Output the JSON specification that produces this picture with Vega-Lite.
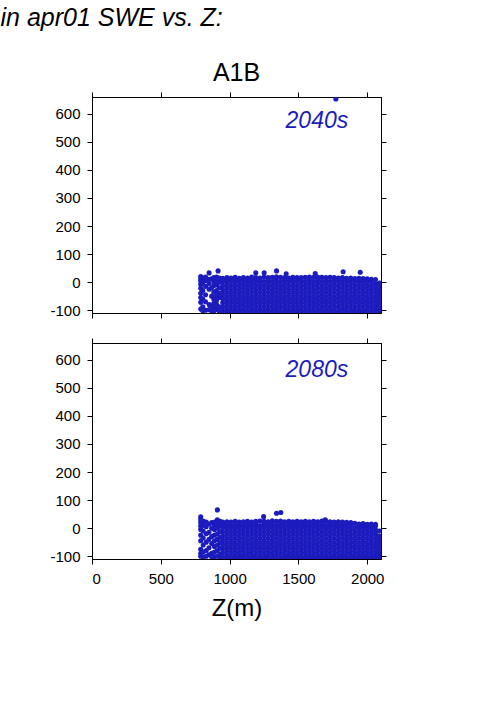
{
"$schema": "https://vega.github.io/schema/vega-lite/v6.json",
"background": "white",
"padding": {"left": 0, "top": 6, "right": 5, "bottom": 5},
"spacing": 18,
"title": {"text": "in apr01 SWE vs. Z:", "anchor": "start", "frame": "bounds", "dx": -49, "fontSize": 25, "fontStyle": "italic", "fontWeight": "normal", "font": "Liberation Sans", "color": "black", "offset": 29},
"config": {
 "view": {"stroke": "black", "strokeWidth": 1},
 "font": "Liberation Sans",
 "axis": {"domainColor": "black", "domainWidth": 1, "tickColor": "black", "tickWidth": 1, "tickSize": 5, "labelFont": "Liberation Sans", "labelFontSize": 15, "labelColor": "black", "labelPadding": 7, "grid": false, "titleFont": "Liberation Sans", "titleFontSize": 24, "titleFontWeight": "normal", "titleColor": "black", "labelExpr": "'' + datum.value"},
 "title": {"font": "Liberation Sans", "fontWeight": "normal", "color": "black"}
},
"datasets": {
"a": [
{"z":790,"s":20},{"z":790,"s":12},{"z":790,"s":4},{"z":790,"s":-8},{"z":790,"s":-22},{"z":790,"s":-40},{"z":790,"s":-55},{"z":790,"s":-72},{"z":790,"s":-96},
{"z":805,"s":15},{"z":805,"s":-2},{"z":805,"s":-30},{"z":805,"s":-60},{"z":805,"s":-88},{"z":805,"s":-102},
{"z":825,"s":18},{"z":825,"s":6},{"z":825,"s":-15},{"z":825,"s":-45},{"z":825,"s":-70},{"z":825,"s":-100},
{"z":851,"s":33},{"z":851,"s":10},{"z":851,"s":-5},{"z":851,"s":-25},{"z":851,"s":-80},{"z":851,"s":-98},
{"z":870,"s":12},{"z":870,"s":-20},{"z":870,"s":-50},{"z":870,"s":-85},{"z":870,"s":-103},
{"z":885,"s":16},{"z":885,"s":2},{"z":885,"s":-12},{"z":885,"s":-35},{"z":885,"s":-60},{"z":885,"s":-75},{"z":885,"s":-92},{"z":885,"s":-103},
{"z":905,"s":18},{"z":905,"s":5},{"z":905,"s":-10},{"z":905,"s":-30},{"z":905,"s":-48},{"z":905,"s":-65},{"z":905,"s":-80},{"z":905,"s":-97},
{"z":916,"s":40},
{"z":925,"s":15},{"z":925,"s":0},{"z":925,"s":-20},{"z":925,"s":-40},{"z":925,"s":-55},{"z":925,"s":-88},{"z":925,"s":-104},
{"z":1190,"s":33},{"z":1251,"s":33},{"z":1341,"s":40},{"z":1411,"s":30},{"z":1622,"s":31},{"z":1825,"s":37},{"z":1949,"s":35},{"z":1772,"s":653},
{"z":950,"s":-103},{"z":950,"s":-88},{"z":950,"s":-73},{"z":950,"s":-58},{"z":950,"s":-43},{"z":950,"s":-28},{"z":950,"s":-13},{"z":950,"s":2},{"z":950,"s":14},
{"z":980,"s":-105},{"z":980,"s":-96},{"z":980,"s":-81},{"z":980,"s":-66},{"z":980,"s":-51},{"z":980,"s":-36},{"z":980,"s":-21},{"z":980,"s":-6},{"z":980,"s":8},{"z":980,"s":16},
{"z":1010,"s":-103},{"z":1010,"s":-88},{"z":1010,"s":-73},{"z":1010,"s":-58},{"z":1010,"s":-43},{"z":1010,"s":-28},{"z":1010,"s":-13},{"z":1010,"s":2},{"z":1010,"s":15},
{"z":1040,"s":-105},{"z":1040,"s":-96},{"z":1040,"s":-81},{"z":1040,"s":-66},{"z":1040,"s":-51},{"z":1040,"s":-36},{"z":1040,"s":-21},{"z":1040,"s":-6},{"z":1040,"s":8},{"z":1040,"s":17},
{"z":1070,"s":-103},{"z":1070,"s":-88},{"z":1070,"s":-73},{"z":1070,"s":-58},{"z":1070,"s":-43},{"z":1070,"s":-28},{"z":1070,"s":-13},{"z":1070,"s":2},{"z":1070,"s":14},
{"z":1100,"s":-105},{"z":1100,"s":-96},{"z":1100,"s":-81},{"z":1100,"s":-66},{"z":1100,"s":-51},{"z":1100,"s":-36},{"z":1100,"s":-21},{"z":1100,"s":-6},{"z":1100,"s":8},{"z":1100,"s":16},
{"z":1130,"s":-103},{"z":1130,"s":-88},{"z":1130,"s":-73},{"z":1130,"s":-58},{"z":1130,"s":-43},{"z":1130,"s":-28},{"z":1130,"s":-13},{"z":1130,"s":2},{"z":1130,"s":15},
{"z":1160,"s":-105},{"z":1160,"s":-96},{"z":1160,"s":-81},{"z":1160,"s":-66},{"z":1160,"s":-51},{"z":1160,"s":-36},{"z":1160,"s":-21},{"z":1160,"s":-6},{"z":1160,"s":8},{"z":1160,"s":18},
{"z":1190,"s":-103},{"z":1190,"s":-88},{"z":1190,"s":-73},{"z":1190,"s":-58},{"z":1190,"s":-43},{"z":1190,"s":-28},{"z":1190,"s":-13},{"z":1190,"s":2},{"z":1190,"s":16},
{"z":1220,"s":-105},{"z":1220,"s":-96},{"z":1220,"s":-81},{"z":1220,"s":-66},{"z":1220,"s":-51},{"z":1220,"s":-36},{"z":1220,"s":-21},{"z":1220,"s":-6},{"z":1220,"s":8},{"z":1220,"s":15},
{"z":1250,"s":-103},{"z":1250,"s":-88},{"z":1250,"s":-73},{"z":1250,"s":-58},{"z":1250,"s":-43},{"z":1250,"s":-28},{"z":1250,"s":-13},{"z":1250,"s":2},{"z":1250,"s":18},
{"z":1280,"s":-105},{"z":1280,"s":-96},{"z":1280,"s":-81},{"z":1280,"s":-66},{"z":1280,"s":-51},{"z":1280,"s":-36},{"z":1280,"s":-21},{"z":1280,"s":-6},{"z":1280,"s":8},{"z":1280,"s":16},
{"z":1310,"s":-103},{"z":1310,"s":-88},{"z":1310,"s":-73},{"z":1310,"s":-58},{"z":1310,"s":-43},{"z":1310,"s":-28},{"z":1310,"s":-13},{"z":1310,"s":2},{"z":1310,"s":17},
{"z":1340,"s":-105},{"z":1340,"s":-96},{"z":1340,"s":-81},{"z":1340,"s":-66},{"z":1340,"s":-51},{"z":1340,"s":-36},{"z":1340,"s":-21},{"z":1340,"s":-6},{"z":1340,"s":8},{"z":1340,"s":19},
{"z":1370,"s":-103},{"z":1370,"s":-88},{"z":1370,"s":-73},{"z":1370,"s":-58},{"z":1370,"s":-43},{"z":1370,"s":-28},{"z":1370,"s":-13},{"z":1370,"s":2},{"z":1370,"s":17},
{"z":1400,"s":-105},{"z":1400,"s":-96},{"z":1400,"s":-81},{"z":1400,"s":-66},{"z":1400,"s":-51},{"z":1400,"s":-36},{"z":1400,"s":-21},{"z":1400,"s":-6},{"z":1400,"s":8},{"z":1400,"s":16},
{"z":1430,"s":-103},{"z":1430,"s":-88},{"z":1430,"s":-73},{"z":1430,"s":-58},{"z":1430,"s":-43},{"z":1430,"s":-28},{"z":1430,"s":-13},{"z":1430,"s":2},{"z":1430,"s":15},
{"z":1460,"s":-105},{"z":1460,"s":-96},{"z":1460,"s":-81},{"z":1460,"s":-66},{"z":1460,"s":-51},{"z":1460,"s":-36},{"z":1460,"s":-21},{"z":1460,"s":-6},{"z":1460,"s":8},{"z":1460,"s":17},
{"z":1490,"s":-103},{"z":1490,"s":-88},{"z":1490,"s":-73},{"z":1490,"s":-58},{"z":1490,"s":-43},{"z":1490,"s":-28},{"z":1490,"s":-13},{"z":1490,"s":2},{"z":1490,"s":16},
{"z":1520,"s":-105},{"z":1520,"s":-96},{"z":1520,"s":-81},{"z":1520,"s":-66},{"z":1520,"s":-51},{"z":1520,"s":-36},{"z":1520,"s":-21},{"z":1520,"s":-6},{"z":1520,"s":8},{"z":1520,"s":16},
{"z":1550,"s":-103},{"z":1550,"s":-88},{"z":1550,"s":-73},{"z":1550,"s":-58},{"z":1550,"s":-43},{"z":1550,"s":-28},{"z":1550,"s":-13},{"z":1550,"s":2},{"z":1550,"s":17},
{"z":1580,"s":-105},{"z":1580,"s":-96},{"z":1580,"s":-81},{"z":1580,"s":-66},{"z":1580,"s":-51},{"z":1580,"s":-36},{"z":1580,"s":-21},{"z":1580,"s":-6},{"z":1580,"s":8},{"z":1580,"s":18},
{"z":1610,"s":-103},{"z":1610,"s":-88},{"z":1610,"s":-73},{"z":1610,"s":-58},{"z":1610,"s":-43},{"z":1610,"s":-28},{"z":1610,"s":-13},{"z":1610,"s":2},{"z":1610,"s":17},
{"z":1640,"s":-105},{"z":1640,"s":-96},{"z":1640,"s":-81},{"z":1640,"s":-66},{"z":1640,"s":-51},{"z":1640,"s":-36},{"z":1640,"s":-21},{"z":1640,"s":-6},{"z":1640,"s":8},{"z":1640,"s":18},
{"z":1670,"s":-103},{"z":1670,"s":-88},{"z":1670,"s":-73},{"z":1670,"s":-58},{"z":1670,"s":-43},{"z":1670,"s":-28},{"z":1670,"s":-13},{"z":1670,"s":2},{"z":1670,"s":17},
{"z":1700,"s":-105},{"z":1700,"s":-96},{"z":1700,"s":-81},{"z":1700,"s":-66},{"z":1700,"s":-51},{"z":1700,"s":-36},{"z":1700,"s":-21},{"z":1700,"s":-6},{"z":1700,"s":8},{"z":1700,"s":16},
{"z":1730,"s":-103},{"z":1730,"s":-88},{"z":1730,"s":-73},{"z":1730,"s":-58},{"z":1730,"s":-43},{"z":1730,"s":-28},{"z":1730,"s":-13},{"z":1730,"s":2},{"z":1730,"s":17},
{"z":1760,"s":-105},{"z":1760,"s":-96},{"z":1760,"s":-81},{"z":1760,"s":-66},{"z":1760,"s":-51},{"z":1760,"s":-36},{"z":1760,"s":-21},{"z":1760,"s":-6},{"z":1760,"s":8},{"z":1760,"s":16},
{"z":1790,"s":-103},{"z":1790,"s":-88},{"z":1790,"s":-73},{"z":1790,"s":-58},{"z":1790,"s":-43},{"z":1790,"s":-28},{"z":1790,"s":-13},{"z":1790,"s":2},{"z":1790,"s":15},
{"z":1820,"s":-105},{"z":1820,"s":-96},{"z":1820,"s":-81},{"z":1820,"s":-66},{"z":1820,"s":-51},{"z":1820,"s":-36},{"z":1820,"s":-21},{"z":1820,"s":-6},{"z":1820,"s":8},{"z":1820,"s":16},
{"z":1850,"s":-103},{"z":1850,"s":-88},{"z":1850,"s":-73},{"z":1850,"s":-58},{"z":1850,"s":-43},{"z":1850,"s":-28},{"z":1850,"s":-13},{"z":1850,"s":2},{"z":1850,"s":14},
{"z":1880,"s":-105},{"z":1880,"s":-96},{"z":1880,"s":-81},{"z":1880,"s":-66},{"z":1880,"s":-51},{"z":1880,"s":-36},{"z":1880,"s":-21},{"z":1880,"s":-6},{"z":1880,"s":8},{"z":1880,"s":15},
{"z":1910,"s":-103},{"z":1910,"s":-88},{"z":1910,"s":-73},{"z":1910,"s":-58},{"z":1910,"s":-43},{"z":1910,"s":-28},{"z":1910,"s":-13},{"z":1910,"s":2},{"z":1910,"s":13},
{"z":1940,"s":-105},{"z":1940,"s":-96},{"z":1940,"s":-81},{"z":1940,"s":-66},{"z":1940,"s":-51},{"z":1940,"s":-36},{"z":1940,"s":-21},{"z":1940,"s":-6},{"z":1940,"s":8},{"z":1940,"s":14},
{"z":1970,"s":-103},{"z":1970,"s":-88},{"z":1970,"s":-73},{"z":1970,"s":-58},{"z":1970,"s":-43},{"z":1970,"s":-28},{"z":1970,"s":-13},{"z":1970,"s":2},{"z":1970,"s":13},
{"z":2000,"s":-105},{"z":2000,"s":-96},{"z":2000,"s":-81},{"z":2000,"s":-66},{"z":2000,"s":-51},{"z":2000,"s":-36},{"z":2000,"s":-21},{"z":2000,"s":-6},{"z":2000,"s":8},{"z":2000,"s":12},
{"z":2030,"s":-103},{"z":2030,"s":-88},{"z":2030,"s":-73},{"z":2030,"s":-58},{"z":2030,"s":-43},{"z":2030,"s":-28},{"z":2030,"s":-13},{"z":2030,"s":2},{"z":2030,"s":10},
{"z":2060,"s":-105},{"z":2060,"s":-96},{"z":2060,"s":-81},{"z":2060,"s":-66},{"z":2060,"s":-51},{"z":2060,"s":-36},{"z":2060,"s":-21},{"z":2060,"s":-6},{"z":2060,"s":9},
{"z":2088,"s":-103},{"z":2088,"s":-88},{"z":2088,"s":-73},{"z":2088,"s":-58},{"z":2088,"s":-43},{"z":2088,"s":-28},{"z":2088,"s":-13},{"z":2088,"s":-3}
],
"b": [
{"z":790,"s":40},{"z":790,"s":30},{"z":790,"s":20},{"z":790,"s":8},{"z":790,"s":-5},{"z":790,"s":-25},{"z":790,"s":-45},{"z":790,"s":-75},{"z":790,"s":-90},{"z":790,"s":-100},
{"z":808,"s":25},{"z":808,"s":10},{"z":808,"s":-10},{"z":808,"s":-35},{"z":808,"s":-60},{"z":808,"s":-85},{"z":808,"s":-103},
{"z":830,"s":22},{"z":830,"s":5},{"z":830,"s":-20},{"z":830,"s":-50},{"z":830,"s":-80},{"z":830,"s":-100},
{"z":850,"s":15},{"z":850,"s":-15},{"z":850,"s":-40},{"z":850,"s":-70},{"z":850,"s":-95},
{"z":870,"s":20},{"z":870,"s":0},{"z":870,"s":-30},{"z":870,"s":-55},{"z":870,"s":-90},{"z":870,"s":-103},
{"z":890,"s":22},{"z":890,"s":10},{"z":890,"s":-5},{"z":890,"s":-25},{"z":890,"s":-45},{"z":890,"s":-65},{"z":890,"s":-85},{"z":890,"s":-102},
{"z":911,"s":65},{"z":911,"s":30},{"z":911,"s":18},{"z":911,"s":0},{"z":911,"s":-20},{"z":911,"s":-40},{"z":911,"s":-60},{"z":911,"s":-80},{"z":911,"s":-100},
{"z":930,"s":24},{"z":930,"s":8},{"z":930,"s":-12},{"z":930,"s":-32},{"z":930,"s":-52},{"z":930,"s":-72},{"z":930,"s":-92},{"z":930,"s":-104},
{"z":1247,"s":41},{"z":1341,"s":53},{"z":1372,"s":56},{"z":1695,"s":30},
{"z":950,"s":-103},{"z":950,"s":-88},{"z":950,"s":-73},{"z":950,"s":-58},{"z":950,"s":-43},{"z":950,"s":-28},{"z":950,"s":-13},{"z":950,"s":2},{"z":950,"s":14},{"z":950,"s":22},
{"z":980,"s":-105},{"z":980,"s":-96},{"z":980,"s":-81},{"z":980,"s":-66},{"z":980,"s":-51},{"z":980,"s":-36},{"z":980,"s":-21},{"z":980,"s":-6},{"z":980,"s":8},{"z":980,"s":23},
{"z":1010,"s":-103},{"z":1010,"s":-88},{"z":1010,"s":-73},{"z":1010,"s":-58},{"z":1010,"s":-43},{"z":1010,"s":-28},{"z":1010,"s":-13},{"z":1010,"s":2},{"z":1010,"s":14},{"z":1010,"s":22},
{"z":1040,"s":-105},{"z":1040,"s":-96},{"z":1040,"s":-81},{"z":1040,"s":-66},{"z":1040,"s":-51},{"z":1040,"s":-36},{"z":1040,"s":-21},{"z":1040,"s":-6},{"z":1040,"s":8},{"z":1040,"s":24},
{"z":1070,"s":-103},{"z":1070,"s":-88},{"z":1070,"s":-73},{"z":1070,"s":-58},{"z":1070,"s":-43},{"z":1070,"s":-28},{"z":1070,"s":-13},{"z":1070,"s":2},{"z":1070,"s":14},{"z":1070,"s":22},
{"z":1100,"s":-105},{"z":1100,"s":-96},{"z":1100,"s":-81},{"z":1100,"s":-66},{"z":1100,"s":-51},{"z":1100,"s":-36},{"z":1100,"s":-21},{"z":1100,"s":-6},{"z":1100,"s":8},{"z":1100,"s":23},
{"z":1130,"s":-103},{"z":1130,"s":-88},{"z":1130,"s":-73},{"z":1130,"s":-58},{"z":1130,"s":-43},{"z":1130,"s":-28},{"z":1130,"s":-13},{"z":1130,"s":2},{"z":1130,"s":14},{"z":1130,"s":24},
{"z":1160,"s":-105},{"z":1160,"s":-96},{"z":1160,"s":-81},{"z":1160,"s":-66},{"z":1160,"s":-51},{"z":1160,"s":-36},{"z":1160,"s":-21},{"z":1160,"s":-6},{"z":1160,"s":8},{"z":1160,"s":22},
{"z":1190,"s":-103},{"z":1190,"s":-88},{"z":1190,"s":-73},{"z":1190,"s":-58},{"z":1190,"s":-43},{"z":1190,"s":-28},{"z":1190,"s":-13},{"z":1190,"s":2},{"z":1190,"s":14},{"z":1190,"s":24},
{"z":1220,"s":-105},{"z":1220,"s":-96},{"z":1220,"s":-81},{"z":1220,"s":-66},{"z":1220,"s":-51},{"z":1220,"s":-36},{"z":1220,"s":-21},{"z":1220,"s":-6},{"z":1220,"s":8},{"z":1220,"s":25},
{"z":1250,"s":-103},{"z":1250,"s":-88},{"z":1250,"s":-73},{"z":1250,"s":-58},{"z":1250,"s":-43},{"z":1250,"s":-28},{"z":1250,"s":-13},{"z":1250,"s":2},{"z":1250,"s":14},{"z":1250,"s":24},
{"z":1280,"s":-105},{"z":1280,"s":-96},{"z":1280,"s":-81},{"z":1280,"s":-66},{"z":1280,"s":-51},{"z":1280,"s":-36},{"z":1280,"s":-21},{"z":1280,"s":-6},{"z":1280,"s":8},{"z":1280,"s":23},
{"z":1310,"s":-103},{"z":1310,"s":-88},{"z":1310,"s":-73},{"z":1310,"s":-58},{"z":1310,"s":-43},{"z":1310,"s":-28},{"z":1310,"s":-13},{"z":1310,"s":2},{"z":1310,"s":14},{"z":1310,"s":26},
{"z":1340,"s":-105},{"z":1340,"s":-96},{"z":1340,"s":-81},{"z":1340,"s":-66},{"z":1340,"s":-51},{"z":1340,"s":-36},{"z":1340,"s":-21},{"z":1340,"s":-6},{"z":1340,"s":8},{"z":1340,"s":24},
{"z":1370,"s":-103},{"z":1370,"s":-88},{"z":1370,"s":-73},{"z":1370,"s":-58},{"z":1370,"s":-43},{"z":1370,"s":-28},{"z":1370,"s":-13},{"z":1370,"s":2},{"z":1370,"s":14},{"z":1370,"s":25},
{"z":1400,"s":-105},{"z":1400,"s":-96},{"z":1400,"s":-81},{"z":1400,"s":-66},{"z":1400,"s":-51},{"z":1400,"s":-36},{"z":1400,"s":-21},{"z":1400,"s":-6},{"z":1400,"s":8},{"z":1400,"s":23},
{"z":1430,"s":-103},{"z":1430,"s":-88},{"z":1430,"s":-73},{"z":1430,"s":-58},{"z":1430,"s":-43},{"z":1430,"s":-28},{"z":1430,"s":-13},{"z":1430,"s":2},{"z":1430,"s":14},{"z":1430,"s":24},
{"z":1460,"s":-105},{"z":1460,"s":-96},{"z":1460,"s":-81},{"z":1460,"s":-66},{"z":1460,"s":-51},{"z":1460,"s":-36},{"z":1460,"s":-21},{"z":1460,"s":-6},{"z":1460,"s":8},{"z":1460,"s":23},
{"z":1490,"s":-103},{"z":1490,"s":-88},{"z":1490,"s":-73},{"z":1490,"s":-58},{"z":1490,"s":-43},{"z":1490,"s":-28},{"z":1490,"s":-13},{"z":1490,"s":2},{"z":1490,"s":14},{"z":1490,"s":24},
{"z":1520,"s":-105},{"z":1520,"s":-96},{"z":1520,"s":-81},{"z":1520,"s":-66},{"z":1520,"s":-51},{"z":1520,"s":-36},{"z":1520,"s":-21},{"z":1520,"s":-6},{"z":1520,"s":8},{"z":1520,"s":23},
{"z":1550,"s":-103},{"z":1550,"s":-88},{"z":1550,"s":-73},{"z":1550,"s":-58},{"z":1550,"s":-43},{"z":1550,"s":-28},{"z":1550,"s":-13},{"z":1550,"s":2},{"z":1550,"s":14},{"z":1550,"s":24},
{"z":1580,"s":-105},{"z":1580,"s":-96},{"z":1580,"s":-81},{"z":1580,"s":-66},{"z":1580,"s":-51},{"z":1580,"s":-36},{"z":1580,"s":-21},{"z":1580,"s":-6},{"z":1580,"s":8},{"z":1580,"s":23},
{"z":1610,"s":-103},{"z":1610,"s":-88},{"z":1610,"s":-73},{"z":1610,"s":-58},{"z":1610,"s":-43},{"z":1610,"s":-28},{"z":1610,"s":-13},{"z":1610,"s":2},{"z":1610,"s":14},{"z":1610,"s":24},
{"z":1640,"s":-105},{"z":1640,"s":-96},{"z":1640,"s":-81},{"z":1640,"s":-66},{"z":1640,"s":-51},{"z":1640,"s":-36},{"z":1640,"s":-21},{"z":1640,"s":-6},{"z":1640,"s":8},{"z":1640,"s":23},
{"z":1670,"s":-103},{"z":1670,"s":-88},{"z":1670,"s":-73},{"z":1670,"s":-58},{"z":1670,"s":-43},{"z":1670,"s":-28},{"z":1670,"s":-13},{"z":1670,"s":2},{"z":1670,"s":14},{"z":1670,"s":25},
{"z":1700,"s":-105},{"z":1700,"s":-96},{"z":1700,"s":-81},{"z":1700,"s":-66},{"z":1700,"s":-51},{"z":1700,"s":-36},{"z":1700,"s":-21},{"z":1700,"s":-6},{"z":1700,"s":8},{"z":1700,"s":24},
{"z":1730,"s":-103},{"z":1730,"s":-88},{"z":1730,"s":-73},{"z":1730,"s":-58},{"z":1730,"s":-43},{"z":1730,"s":-28},{"z":1730,"s":-13},{"z":1730,"s":2},{"z":1730,"s":14},{"z":1730,"s":23},
{"z":1760,"s":-105},{"z":1760,"s":-96},{"z":1760,"s":-81},{"z":1760,"s":-66},{"z":1760,"s":-51},{"z":1760,"s":-36},{"z":1760,"s":-21},{"z":1760,"s":-6},{"z":1760,"s":8},{"z":1760,"s":22},
{"z":1790,"s":-103},{"z":1790,"s":-88},{"z":1790,"s":-73},{"z":1790,"s":-58},{"z":1790,"s":-43},{"z":1790,"s":-28},{"z":1790,"s":-13},{"z":1790,"s":2},{"z":1790,"s":14},{"z":1790,"s":23},
{"z":1820,"s":-105},{"z":1820,"s":-96},{"z":1820,"s":-81},{"z":1820,"s":-66},{"z":1820,"s":-51},{"z":1820,"s":-36},{"z":1820,"s":-21},{"z":1820,"s":-6},{"z":1820,"s":8},{"z":1820,"s":22},
{"z":1850,"s":-103},{"z":1850,"s":-88},{"z":1850,"s":-73},{"z":1850,"s":-58},{"z":1850,"s":-43},{"z":1850,"s":-28},{"z":1850,"s":-13},{"z":1850,"s":2},{"z":1850,"s":14},{"z":1850,"s":21},
{"z":1880,"s":-105},{"z":1880,"s":-96},{"z":1880,"s":-81},{"z":1880,"s":-66},{"z":1880,"s":-51},{"z":1880,"s":-36},{"z":1880,"s":-21},{"z":1880,"s":-6},{"z":1880,"s":8},{"z":1880,"s":20},
{"z":1910,"s":-103},{"z":1910,"s":-88},{"z":1910,"s":-73},{"z":1910,"s":-58},{"z":1910,"s":-43},{"z":1910,"s":-28},{"z":1910,"s":-13},{"z":1910,"s":2},{"z":1910,"s":17},
{"z":1940,"s":-105},{"z":1940,"s":-96},{"z":1940,"s":-81},{"z":1940,"s":-66},{"z":1940,"s":-51},{"z":1940,"s":-36},{"z":1940,"s":-21},{"z":1940,"s":-6},{"z":1940,"s":8},{"z":1940,"s":15},
{"z":1970,"s":-103},{"z":1970,"s":-88},{"z":1970,"s":-73},{"z":1970,"s":-58},{"z":1970,"s":-43},{"z":1970,"s":-28},{"z":1970,"s":-13},{"z":1970,"s":2},{"z":1970,"s":16},
{"z":2000,"s":-105},{"z":2000,"s":-96},{"z":2000,"s":-81},{"z":2000,"s":-66},{"z":2000,"s":-51},{"z":2000,"s":-36},{"z":2000,"s":-21},{"z":2000,"s":-6},{"z":2000,"s":8},{"z":2000,"s":14},
{"z":2030,"s":-103},{"z":2030,"s":-88},{"z":2030,"s":-73},{"z":2030,"s":-58},{"z":2030,"s":-43},{"z":2030,"s":-28},{"z":2030,"s":-13},{"z":2030,"s":2},{"z":2030,"s":15},
{"z":2060,"s":-105},{"z":2060,"s":-96},{"z":2060,"s":-81},{"z":2060,"s":-66},{"z":2060,"s":-51},{"z":2060,"s":-36},{"z":2060,"s":-21},{"z":2060,"s":-6},{"z":2060,"s":8},{"z":2060,"s":14},
{"z":2088,"s":-103},{"z":2088,"s":-88},{"z":2088,"s":-73},{"z":2088,"s":-58},{"z":2088,"s":-43},{"z":2088,"s":-28},{"z":2088,"s":-10}
]
},
"vconcat": [
{
 "width": 289, "height": 216,
 "title": {"text": "A1B", "fontSize": 25, "fontWeight": "normal", "font": "Liberation Sans", "color": "black", "offset": 6},
 "layer": [
  {"data": {"name": "a"},
   "mark": {"type": "point", "filled": true, "size": 26, "opacity": 1, "color": "#1c1cbe", "clip": true},
   "encoding": {
    "x": {"field": "z", "type": "quantitative", "scale": {"domain": [0, 2100], "nice": false, "zero": false}, "axis": {"orient": "bottom", "values": [0, 500, 1000, 1500, 2000], "labels": false, "title": null}},
    "y": {"field": "s", "type": "quantitative", "scale": {"domain": [-110, 660], "nice": false, "zero": false}, "axis": {"orient": "left", "values": [-100, 0, 100, 200, 300, 400, 500, 600], "title": null}}
   }},
  {"data": {"values": [{"z": 1862, "s": 550, "t": "2040s"}]},
   "mark": {"type": "text", "align": "right", "baseline": "alphabetic", "fontSize": 23, "fontStyle": "italic", "font": "Liberation Sans", "color": "#1c1cbe"},
   "encoding": {
    "x": {"field": "z", "type": "quantitative", "axis": {"orient": "top", "values": [0, 500, 1000, 1500, 2000], "labels": false, "title": null}},
    "y": {"field": "s", "type": "quantitative", "axis": {"orient": "right", "values": [-100, 0, 100, 200, 300, 400, 500, 600], "labels": false, "title": null}},
    "text": {"field": "t"}
   }}
 ],
 "resolve": {"axis": {"x": "independent", "y": "independent"}}
},
{
 "width": 289, "height": 216,
 "layer": [
  {"data": {"name": "b"},
   "mark": {"type": "point", "filled": true, "size": 26, "opacity": 1, "color": "#1c1cbe", "clip": true},
   "encoding": {
    "x": {"field": "z", "type": "quantitative", "scale": {"domain": [0, 2100], "nice": false, "zero": false}, "axis": {"orient": "bottom", "values": [0, 500, 1000, 1500, 2000], "title": "Z(m)", "titlePadding": 10}},
    "y": {"field": "s", "type": "quantitative", "scale": {"domain": [-110, 660], "nice": false, "zero": false}, "axis": {"orient": "left", "values": [-100, 0, 100, 200, 300, 400, 500, 600], "title": null}}
   }},
  {"data": {"values": [{"z": 1862, "s": 540, "t": "2080s"}]},
   "mark": {"type": "text", "align": "right", "baseline": "alphabetic", "fontSize": 23, "fontStyle": "italic", "font": "Liberation Sans", "color": "#1c1cbe"},
   "encoding": {
    "x": {"field": "z", "type": "quantitative", "axis": {"orient": "top", "values": [0, 500, 1000, 1500, 2000], "labels": false, "title": null}},
    "y": {"field": "s", "type": "quantitative", "axis": {"orient": "right", "values": [-100, 0, 100, 200, 300, 400, 500, 600], "labels": false, "title": null}},
    "text": {"field": "t"}
   }}
 ],
 "resolve": {"axis": {"x": "independent", "y": "independent"}}
}
]
}
